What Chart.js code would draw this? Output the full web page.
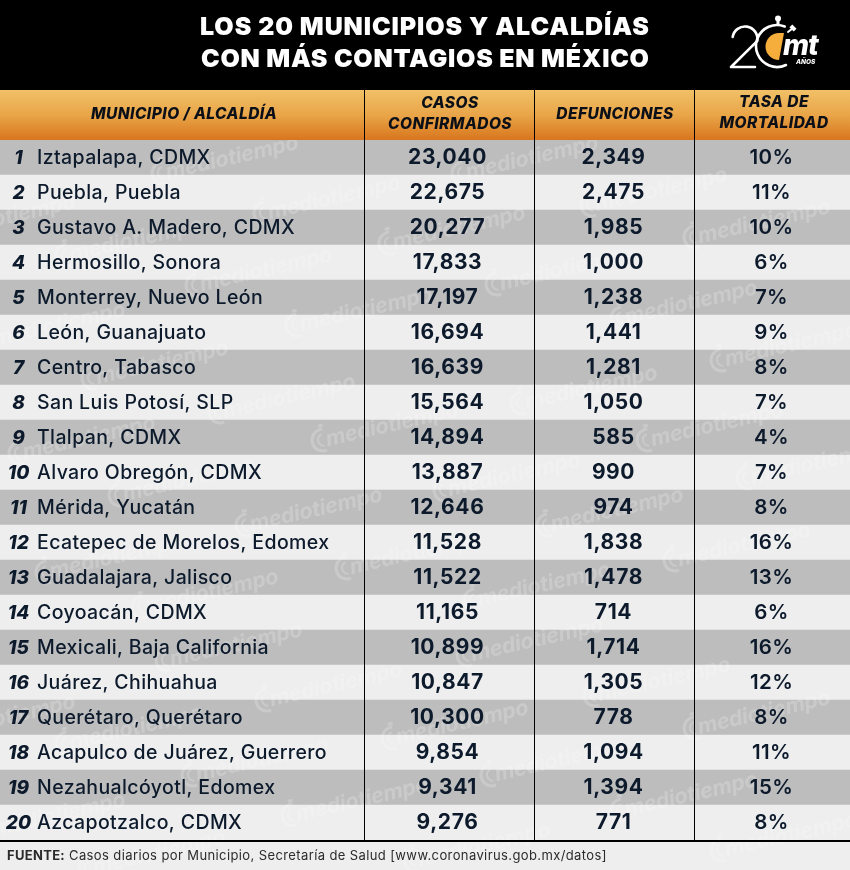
<!DOCTYPE html>
<html lang="es"><head><meta charset="utf-8">
<style>html,body{margin:0;padding:0;background:#000}canvas{display:block}</style>
<script src="https://cdn.jsdelivr.net/npm/chart.js@4"></script></head>
<body><canvas id="c" width="850" height="870" style="width:850px;height:870px"></canvas>
<script>
const municipios=["Iztapalapa, CDMX","Puebla, Puebla","Gustavo A. Madero, CDMX","Hermosillo, Sonora","Monterrey, Nuevo León","León, Guanajuato","Centro, Tabasco","San Luis Potosí, SLP","Tlalpan, CDMX","Alvaro Obregón, CDMX","Mérida, Yucatán","Ecatepec de Morelos, Edomex","Guadalajara, Jalisco","Coyoacán, CDMX","Mexicali, Baja California","Juárez, Chihuahua","Querétaro, Querétaro","Acapulco de Juárez, Guerrero","Nezahualcóyotl, Edomex","Azcapotzalco, CDMX"];
const casos=[23040,22675,20277,17833,17197,16694,16639,15564,14894,13887,12646,11528,11522,11165,10899,10847,10300,9854,9341,9276];
const defunciones=[2349,2475,1985,1000,1238,1441,1281,1050,585,990,974,1838,1478,714,1714,1305,778,1094,1394,771];
const tasa=[10,11,10,6,7,9,8,7,4,7,8,16,13,6,16,12,8,11,15,8];
const titulo=["LOS 20 MUNICIPIOS Y ALCALDÍAS","CON MÁS CONTAGIOS EN MÉXICO"];
const fuenteA="FUENTE:";
const fuenteB="Casos diarios por Municipio, Secretaría de Salud [www.coronavirus.gob.mx/datos]";
const marcas=[[163,173],[265,213],[390,243],[463,173],[592,205],[695,237],[-60,232],[67,255],[197,285],[297,325],[-10,340],[93,378],[220,412],[20,453],[323,440],[120,495],[247,525],[497,284],[622,318],[722,360],[522,403],[648,440],[748,478],[445,490],[548,525],[347,568],[47,572],[143,607],[167,660],[267,700],[393,738],[67,743],[193,775],[293,815],[-60,732],[-10,830],[90,868],[675,560],[475,600],[468,655],[595,695],[695,728],[492,775],[622,810],[722,850],[415,860]];
const FONT='Inter, "Open Sans", sans-serif';
const INK='#0c1a2c';
function txt(g,s,x,y,font,color,align,sp){g.font=font;g.fillStyle=color;g.textAlign=align||'left';g.textBaseline='alphabetic';g.letterSpacing=(sp||0)+'px';g.fillText(s,x,y);g.letterSpacing='0px';}
function fit(g,s,x0,x1,y,font,color){g.font=font;g.letterSpacing='0px';const w=g.measureText(s).width;const sp=(x1-x0-w)/Math.max(1,s.length-1);txt(g,s,x0,y,font,color,'left',sp);}
function logo(g){
 g.save();g.strokeStyle='#fff';g.fillStyle='#fff';g.lineWidth=2.6;g.lineCap='round';g.lineJoin='round';
 g.beginPath();g.arc(745,39,12.5,Math.PI*1.05,0.15);g.lineTo(731,67);g.lineTo(755,67);g.stroke();
 g.beginPath();g.arc(777,46,21,-Math.PI*0.38,Math.PI*0.36,true);g.stroke();
 g.fillStyle='#f5ae3b';g.beginPath();g.moveTo(779,33);g.arc(779,46.5,13.5,-Math.PI/2,Math.PI/2,true);g.lineTo(779,60);g.lineTo(784,33);g.closePath();g.fill();
 g.fillStyle='#fff';g.beginPath();g.arc(778,18.5,3,0,7);g.fill();g.fillRect(776.5,20,3,6);
 g.save();g.translate(793,28);g.rotate(Math.PI/4);g.fillRect(-3,-2,6,4);g.restore();
 g.lineWidth=2;g.beginPath();g.moveTo(788,32);g.lineTo(793,28);g.stroke();
 txt(g,'mt',783,55,'italic 800 28px '+FONT,'#fff','left',-1);
 txt(g,'AÑOS',796,64,'italic 800 6.5px '+FONT,'#fff');
 g.restore();
}
const tablaPlugin={id:'tabla',
 beforeDraw(ch){const g=ch.ctx;g.save();g.fillStyle='#000';g.fillRect(0,0,850,90);
  const gr=g.createLinearGradient(0,90,0,140);gr.addColorStop(0,'#f1c067');gr.addColorStop(.5,'#e9a548');gr.addColorStop(1,'#d8761e');g.fillStyle=gr;g.fillRect(0,90,850,50);
  g.fillStyle='#eeeeee';g.fillRect(0,840,850,30);g.restore();},
 afterDatasetsDraw(ch){const g=ch.ctx,xs=ch.scales.x,ys=ch.scales.y;g.save();
  g.save();g.beginPath();g.rect(0,140,850,730);g.clip();
  marcas.forEach(([mx,my])=>{g.save();g.translate(mx,my);g.rotate(-0.225);g.globalAlpha=.2;g.strokeStyle='#fff';g.lineWidth=3;g.beginPath();g.arc(0,0,11,Math.PI*.45,Math.PI*1.55);g.stroke();g.lineWidth=2;g.beginPath();g.arc(1,0,6,Math.PI*.55,Math.PI*1.45);g.stroke();g.fillStyle='#fff';g.fillRect(-2,-16,5,3);
   txt(g,'mediotiempo',3,7,'italic 700 21.5px '+FONT,'#fff','left',-.2);g.restore();});
  g.restore();
  g.fillStyle='#000';[364,534,694].forEach(v=>g.fillRect(Math.round(xs.getPixelForValue(v)),90,1,750));
  g.fillRect(0,840,850,2);
  titulo.forEach((t,i)=>{const [a,b]=i?[201,649]:[200,649];fit(g,t,a,b,i?66.5:35,'900 25px '+FONT,'#fff');});
  logo(g);
  const hf='italic 800 15.5px '+FONT,hs=.45;
  txt(g,'MUNICIPIO / ALCALDÍA',184,118.5,hf,'#0a0f18','center',hs);
  txt(g,'CASOS',450,108,hf,'#0a0f18','center',hs);txt(g,'CONFIRMADOS',450,129,hf,'#0a0f18','center',hs);
  txt(g,'DEFUNCIONES',615,118.5,hf,'#0a0f18','center',hs);
  txt(g,'TASA DE',774,107,hf,'#0a0f18','center',hs);txt(g,'MORTALIDAD',774,127.5,hf,'#0a0f18','center',hs);
  const fmt=v=>v.toLocaleString('en-US');
  municipios.forEach((m,i)=>{const y=ys.getPixelForValue(i);
   txt(g,String(i+1),18.5,y+6,'italic 800 19px '+FONT,INK,'center');
   txt(g,m,37,y+6,'500 19.5px '+FONT,INK,'left',.38);
   const ny=y+6.5,nf='700 21px '+FONT;
   txt(g,fmt(casos[i]),xs.getPixelForValue(447.5),ny,nf,INK,'center',.6);
   txt(g,fmt(defunciones[i]),xs.getPixelForValue(613.5),ny,nf,INK,'center',.6);
   txt(g,tasa[i]+'%',xs.getPixelForValue(771.5),ny,'600 20.5px '+FONT,INK,'center',.4);
  });
  txt(g,fuenteA,7,859.5,'700 13px '+FONT,'#2b2b2b','left',.3);
  txt(g,fuenteB,69,859.5,'400 13px '+FONT,'#2b2b2b','left',.39);
  g.restore();}
};
new Chart(document.getElementById('c'),{type:'bar',plugins:[tablaPlugin],
 data:{labels:municipios,datasets:[{label:'Casos confirmados',data:municipios.map(()=>[0,850]),casos,defunciones,tasa,
  backgroundColor:c=>c.dataIndex%2?'#eeeeee':'#bdbdbd',borderWidth:0,barPercentage:1,categoryPercentage:1}]},
 options:{indexAxis:'y',responsive:false,animation:false,devicePixelRatio:1,
  layout:{padding:{top:140,bottom:30,left:0,right:0}},
  plugins:{legend:{display:false},tooltip:{enabled:false},title:{display:false}},
  scales:{x:{type:'linear',min:0,max:850,display:false},y:{type:'category',display:false,offset:true}}}});
</script></body></html>
